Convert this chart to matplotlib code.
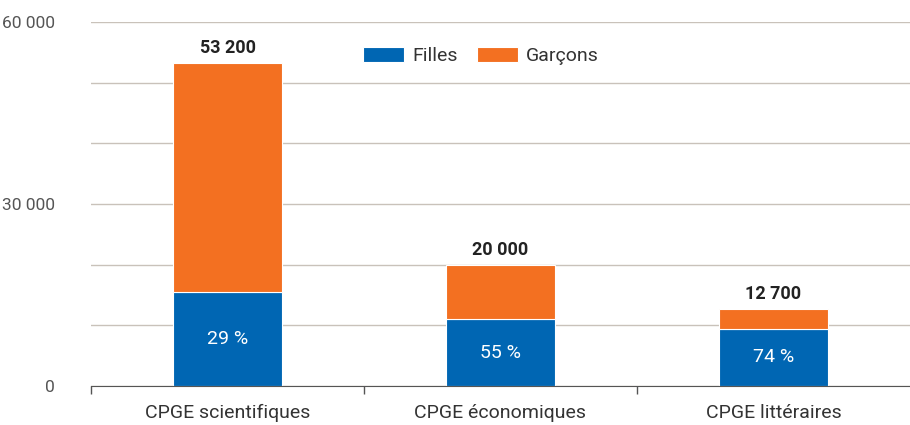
import matplotlib.pyplot as plt
import numpy as np

categories = ["CPGE scientifiques", "CPGE économiques", "CPGE littéraires"]
totals = [53200, 20000, 12700]
part_filles = [29, 55, 74]  # en %
total_labels = ["53 200", "20 000", "12 700"]

bleu = "#0066b3"
orange = "#f37021"

filles = [t * p / 100 for t, p in zip(totals, part_filles)]
garcons = [t - f for t, f in zip(totals, filles)]

plt.rcParams['font.family'] = ['Roboto', 'DejaVu Sans']

fig = plt.figure(figsize=(9.1, 4.25), dpi=100)
ax = fig.add_axes([0.1, 0.092, 0.9, 0.856])

x = np.arange(len(categories))
b1 = ax.bar(x, filles, 0.4, color=bleu, edgecolor="white", linewidth=0.8, zorder=3, label="Filles")
b2 = ax.bar(x, garcons, 0.4, bottom=filles, color=orange, edgecolor="white", linewidth=0.8, zorder=3, label="Garçons")

for i in range(len(categories)):
    ax.text(x[i], totals[i] + 1000, total_labels[i], ha="center", va="bottom",
            fontsize=13, fontweight="bold", color="#222222")
    ax.text(x[i], filles[i] / 2, str(part_filles[i]) + " %", ha="center", va="center",
            fontsize=14, color="white")

ax.set_xlim(-0.5, 2.5)
ax.set_ylim(0, 60000)
ax.set_yticks(np.arange(0, 60001, 10000))
ax.set_yticklabels(["0", "", "", "30 000", "", "", "60 000"])
ax.grid(axis="y", color="#c9c2ba", linewidth=1, zorder=0)
ax.tick_params(axis="y", length=0, labelsize=12.5, labelcolor="#555555", pad=26)

ax.set_xticks(x)
ax.set_xticklabels(categories)
ax.set_xticks([-0.5, 0.5, 1.5], minor=True)
ax.tick_params(axis="x", which="major", length=0, labelsize=14, labelcolor="#333333", pad=13)
ax.tick_params(axis="x", which="minor", length=6, color="#555555", width=1)

for s in ["top", "right", "left"]:
    ax.spines[s].set_visible(False)
ax.spines["bottom"].set_color("#555555")
ax.spines["bottom"].set_zorder(4)

ax.legend(ncol=2, frameon=False, loc="center", bbox_to_anchor=(0.476, 0.907),
          fontsize=14, handlelength=2.1, handleheight=0.8, columnspacing=1.0,
          handletextpad=0.4, labelcolor="#333333")

plt.savefig("out.png")
